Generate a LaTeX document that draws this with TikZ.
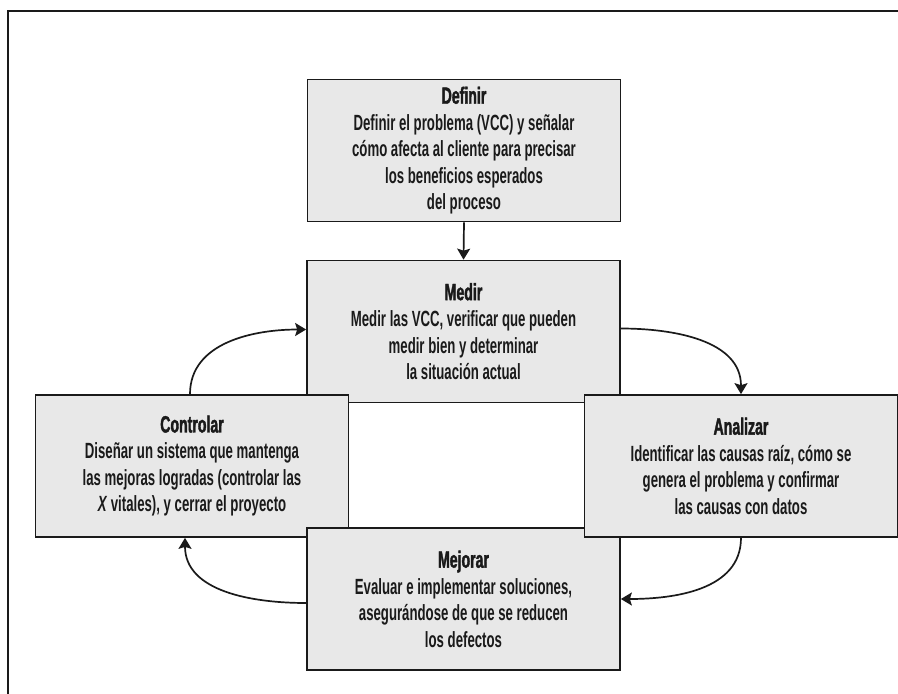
\documentclass[tikz,border=0pt]{standalone}
\usepackage{fontspec}
\setmainfont{Liberation Sans}
\newfontfamily\headfont{Liberation Sans}[FakeStretch=0.6, FakeBold=1.6]
\newfontfamily\bodyfont{Liberation Sans}[FakeStretch=0.6]
\usetikzlibrary{arrows.meta}
\definecolor{boxfill}{HTML}{E8E8E8}
\definecolor{ink}{HTML}{1A1A1A}
\tikzset{
  stage/.style={draw=ink, line width=1.7pt, fill=boxfill,
    minimum width=313pt, minimum height=142pt, inner sep=0pt,
    align=center, text=ink,
    font=\bodyfont\bfseries\fontsize{22}{26.5}\selectfont},
  flow/.style={draw=ink, line width=1.7pt, -{Stealth[length=11pt,width=13pt,inset=2pt]}},
  frame/.style={draw=ink, line width=1.8pt},
}
\newcommand{\stagetitle}[1]{{\headfont\bfseries\fontsize{23.5}{26.5}\selectfont #1}}
\begin{document}
\begin{tikzpicture}[x=1pt,y=1pt]
  \path[use as bounding box] (0,0) rectangle (898,-694);
  % page frame
  \draw[frame] (8,-694) -- (8,-11) -- (898,-11);

  % the five DMAIC stages
  \node[stage] (def) at (464,-150.5) {\stagetitle{Definir}\\
    Definir el problema (VCC) y señalar\\
    cómo afecta al cliente para precisar\\
    los beneficios esperados\\
    del proceso};
  \node[stage] (med) at (463.5,-331.5) {\stagetitle{Medir}\\
    Medir las VCC, verificar que pueden\\
    medir bien y determinar\\
    la situación actual};
  \node[stage] (con) at (192,-466) {\stagetitle{Controlar}\\
    Diseñar un sistema que mantenga\\
    las mejoras logradas (controlar las\\
    \textit{X} vitales), y cerrar el proyecto};
  \node[stage] (mej) at (463.5,-599) {\stagetitle{Mejorar}\\
    Evaluar e implementar soluciones,\\
    asegurándose de que se reducen\\
    los defectos};
  \node[stage] (ana) at (741,-466) {\stagetitle{Analizar}\\
    Identificar las causas raíz, cómo se\\
    genera el problema y confirmar\\
    las causas con datos};

  % cycle connectors
  \draw[flow] (def.south) -- (med.north);
  \draw[flow] ([xshift=-2pt]con.north) to[out=90,in=180] ([yshift=2pt]med.west);
  \draw[flow] ([yshift=3pt]med.east) to[out=0,in=90] (ana.north);
  \draw[flow] (ana.south) to[out=-90,in=0] (mej.east);
  \draw[flow] ([yshift=-4pt]mej.west) to[out=180,in=-90] ([xshift=-7pt]con.south);
\end{tikzpicture}
\end{document}
